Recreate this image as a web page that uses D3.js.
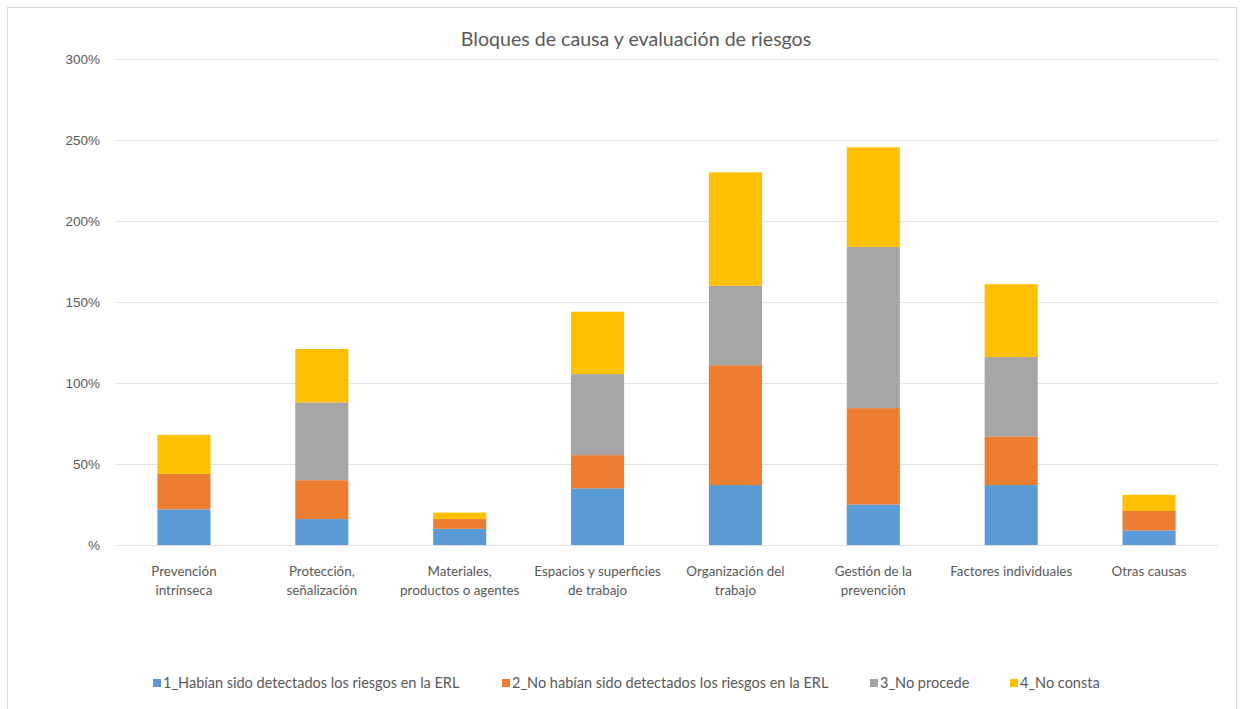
<!DOCTYPE html>
<html>
<head>
<meta charset="utf-8">
<script src="https://cdn.jsdelivr.net/npm/d3@7"></script>
<style>
  body { margin: 0; background: #fff; }
  svg { font-family: Lato, "Open Sans", sans-serif; }
</style>
</head>
<body>
<svg></svg>
<script>
const categories = [
    ['Prevención', 'intrínseca'],
    ['Protección,', 'señalización'],
    ['Materiales,', 'productos o agentes'],
    ['Espacios y superficies', 'de trabajo'],
    ['Organización del', 'trabajo'],
    ['Gestión de la', 'prevención'],
    ['Factores individuales'],
    ['Otras causas']
];

const seriesNames = [
    '1_Habían sido detectados los riesgos en la ERL',
    '2_No habían sido detectados los riesgos en la ERL',
    '3_No procede',
    '4_No consta'
];

const detectados   = [22, 16, 10, 35, 37, 25, 37, 9];
const noDetectados = [22, 24, 6, 20.5, 74, 59.5, 30, 12];
const noProcede    = [0, 48, 0, 50, 49, 99.5, 49, 0];
const noConsta     = [24, 33, 4, 38.5, 70, 61.5, 45, 10];

const yTicks = [0, 50, 100, 150, 200, 250, 300];

const colors = ['#5B9BD5', '#ED7D31', '#A5A5A5', '#FFC000'];

const width = 1243;
const height = 709;
const plotLeft = 115, plotRight = 1218, plotTop = 59, plotBottom = 545;

const svg = d3.select('svg').attr('width', width).attr('height', height);

// chart frame
svg.append('rect')
    .attr('x', 7.5).attr('y', 7.5)
    .attr('width', 1229).attr('height', 710)
    .attr('fill', '#fff')
    .attr('stroke', '#d9d9d9');

const keys = categories.map(c => c.join(' '));
const rows = keys.map((k, i) => ({
    cat: k,
    s0: detectados[i],
    s1: noDetectados[i],
    s2: noProcede[i],
    s3: noConsta[i]
}));

const xScale = d3.scaleBand()
    .domain(keys)
    .range([plotLeft, plotRight])
    .paddingInner(0.615)
    .paddingOuter(0.3075);

const yScale = d3.scaleLinear()
    .domain([0, 300])
    .range([plotBottom, plotTop]);

// gridlines + y labels
const yAxis = d3.axisLeft(yScale)
    .tickValues(yTicks)
    .tickSize(-(plotRight - plotLeft))
    .tickPadding(15)
    .tickFormat(d => d === 0 ? '%' : d + '%');

const gy = svg.append('g')
    .attr('transform', 'translate(' + plotLeft + ',0)')
    .call(yAxis);
gy.select('.domain').remove();
gy.selectAll('line').attr('stroke', '#e3e3e3');
gy.selectAll('text')
    .attr('fill', '#595959')
    .style('font-size', '13.5px');

// stacked bars
const stack = d3.stack().keys(['s0', 's1', 's2', 's3']);
const layers = stack(rows);

svg.append('g')
    .selectAll('g')
    .data(layers)
    .enter()
    .append('g')
    .attr('fill', (d, i) => colors[i])
    .selectAll('rect')
    .data(d => d)
    .enter()
    .append('rect')
    .attr('x', d => xScale(d.data.cat))
    .attr('width', xScale.bandwidth())
    .attr('y', d => yScale(d[1]))
    .attr('height', d => yScale(d[0]) - yScale(d[1]));

// category labels
const xl = svg.append('g');
categories.forEach((lines, i) => {
    const cx = xScale(keys[i]) + xScale.bandwidth() / 2;
    const t = xl.append('text')
        .attr('x', cx)
        .attr('y', 576)
        .attr('text-anchor', 'middle')
        .attr('fill', '#595959')
        .style('font-size', '13.4px');
    lines.forEach((ln, j) => {
        t.append('tspan')
            .attr('x', cx)
            .attr('dy', j === 0 ? 0 : 19)
            .text(ln);
    });
});

// title
svg.append('text')
    .attr('x', 636)
    .attr('y', 46)
    .attr('text-anchor', 'middle')
    .attr('fill', '#595959')
    .style('font-size', '19.6px')
    .text('Bloques de causa y evaluación de riesgos');

// legend
const legendX = [153, 502, 870, 1010];
const legend = svg.append('g');
seriesNames.forEach((name, i) => {
    legend.append('rect')
        .attr('x', legendX[i])
        .attr('y', 679)
        .attr('width', 8).attr('height', 8)
        .attr('fill', colors[i]);
    legend.append('text')
        .attr('x', legendX[i] + 10)
        .attr('y', 688)
        .attr('fill', '#595959')
        .style('font-size', '14.5px')
        .text(name);
});
</script>
</body>
</html>
